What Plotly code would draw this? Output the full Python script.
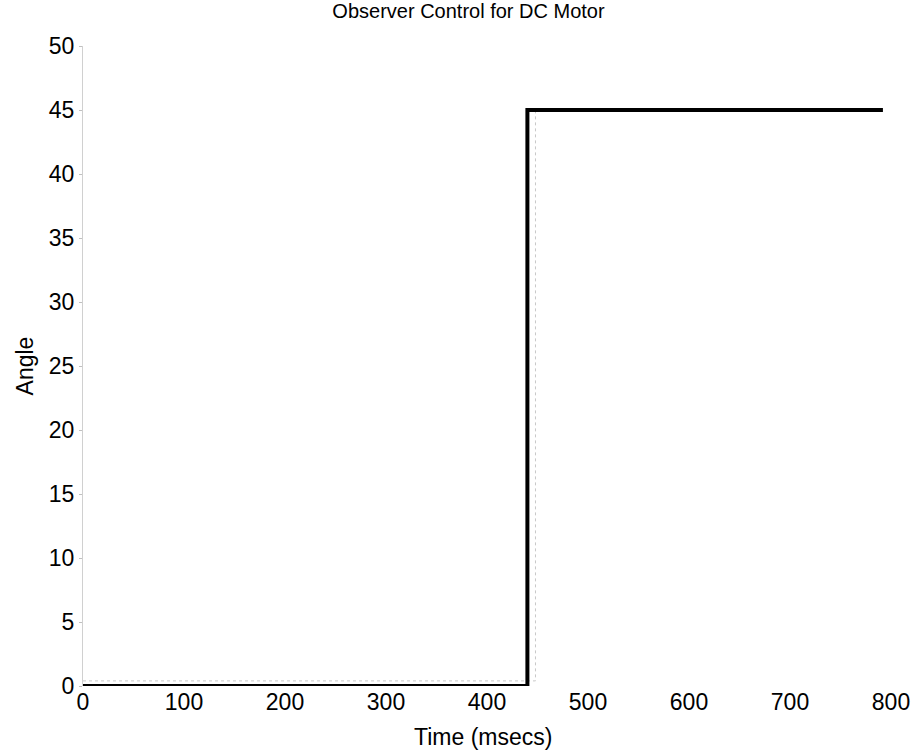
import plotly.graph_objects as go

# Data
time_cmd = [0, 440, 440, 792]
angle_cmd = [0, 0, 45, 45]
time_est = [0, 438, 448, 448]
angle_est = [0.4, 0.4, 0.4, 45]
x_ticks = [0, 100, 200, 300, 400, 500, 600, 700, 800]
y_ticks = [0, 5, 10, 15, 20, 25, 30, 35, 40, 45, 50]

fig = go.Figure()
fig.add_trace(go.Scatter(x=time_est, y=angle_est, mode="lines",
                         line=dict(color="#c8c8c8", width=1, dash="dot"),
                         showlegend=False, hoverinfo="skip"))
fig.add_trace(go.Scatter(x=time_cmd, y=angle_cmd, mode="lines",
                         line=dict(color="black", width=4),
                         showlegend=False, cliponaxis=False))

font = "Arial, Liberation Sans, sans-serif"
fig.update_layout(
    width=915, height=753,
    margin=dict(l=83, r=24, t=46, b=67, autoexpand=False),
    paper_bgcolor="white", plot_bgcolor="white",
    title=dict(text="Observer Control for DC Motor", x=0.512, xanchor="center",
               y=0.986, yanchor="middle", font=dict(family=font, size=20, color="black")),
    font=dict(family=font, color="black"),
    xaxis=dict(range=[0, 800], tickvals=x_ticks, showgrid=False, zeroline=False,
               showline=False, ticks="", tickfont=dict(size=23), automargin=False),
    yaxis=dict(range=[0, 50], tickvals=y_ticks, showgrid=False, zeroline=False,
               showline=True, linecolor="#d0d0d0", linewidth=1,
               ticks="outside", ticklen=3, tickcolor="#c0c0c0", automargin=False,
               tickfont=dict(size=23),
               title=dict(text="Angle", font=dict(size=23), standoff=8)),
    annotations=[dict(text="Time (msecs)", xref="paper", yref="paper",
                      x=0.495, y=-0.080, xanchor="center", yanchor="middle",
                      showarrow=False, font=dict(family=font, size=23, color="black"))],
)

fig.write_html("out.html", config={"displayModeBar": False},
               post_script="document.body.style.margin='0';")
